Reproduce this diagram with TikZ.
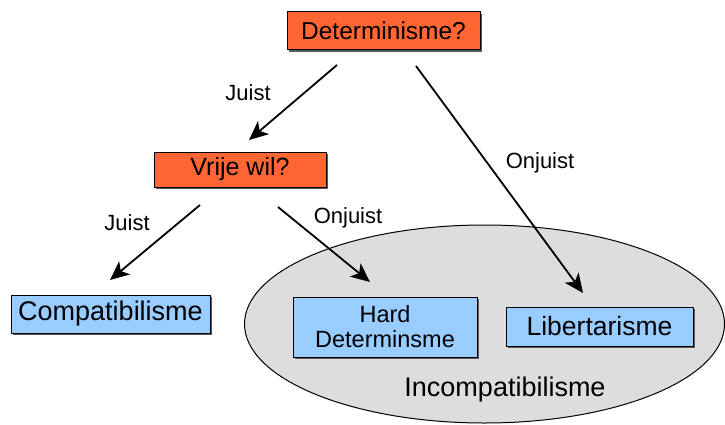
\documentclass[tikz,border=0pt]{standalone}
\usepackage{fontspec}
\setmainfont{Liberation Sans}
\usetikzlibrary{arrows.meta,shadows,shapes.geometric}
\definecolor{qorange}{HTML}{FF6633}
\definecolor{qblue}{HTML}{99CCFF}
\definecolor{qgray}{HTML}{DDDDDD}
\tikzset{
  box/.style={draw=black, line width=1pt, inner sep=0pt, align=center,
    drop shadow={shadow xshift=1.8pt, shadow yshift=-1.8pt, fill=black!65, opacity=1}},
  qbox/.style={box, fill=qorange},
  abox/.style={box, fill=qblue},
  arr/.style={line width=1.8pt, -{Stealth[length=19pt,width=17pt,inset=5pt]}},
  lbl/.style={font=\fontsize{22}{24}\selectfont, inner sep=0pt},
}
\begin{document}
\begin{tikzpicture}[x=1pt,y=-1pt]
\useasboundingbox (0,0) rectangle (725,425);
% ellipse
\node[ellipse, draw=black, line width=1pt, fill=qgray, minimum width=480pt, minimum height=198pt, inner sep=0pt] (inc) at (484.5,324) {};
\node[font=\fontsize{27}{30}\selectfont, inner sep=0pt] (inclbl) at (505,390) {Incompatibilisme};
% boxes
\node[qbox, minimum width=193pt, minimum height=38pt, font=\fontsize{24.5}{28}\selectfont] (det) at (383.5,31) {Determinisme?};
\node[qbox, minimum width=172pt, minimum height=35pt, font=\fontsize{25}{28}\selectfont] (vw) at (240,169.5) {Vrije wil?};
\node[abox, minimum width=199pt, minimum height=38pt, font=\fontsize{27}{30}\selectfont] (com) at (110.5,314) {Compatibilisme};
\node[abox, minimum width=184pt, minimum height=60pt, font=\fontsize{23.5}{25}\selectfont] (hd) at (385,327) {Hard\\Determinsme};
\node[abox, minimum width=187pt, minimum height=39pt, font=\fontsize{26.5}{30}\selectfont] (lib) at (599.5,326.5) {Libertarisme};
% connector endpoints
\coordinate (a1s) at (337,65);
\coordinate (a1e) at (249,140);
\coordinate (a2s) at (416,66);
\coordinate (a2e) at (583,293);
\coordinate (a3s) at (200,205);
\coordinate (a3e) at (110,280);
\coordinate (a4s) at (278,207);
\coordinate (a4e) at (370,282);
\draw[arr] (a1s) -- (a1e);
\draw[arr] (a2s) -- (a2e);
\draw[arr] (a3s) -- (a3e);
\draw[arr] (a4s) -- (a4e);
% labels
\node[lbl] (l1) at (248,93) {Juist};
\node[lbl] (l2) at (540,163) {Onjuist};
\node[lbl] (l3) at (127,223) {Juist};
\node[lbl] (l4) at (348,218) {Onjuist};
\end{tikzpicture}
\end{document}
